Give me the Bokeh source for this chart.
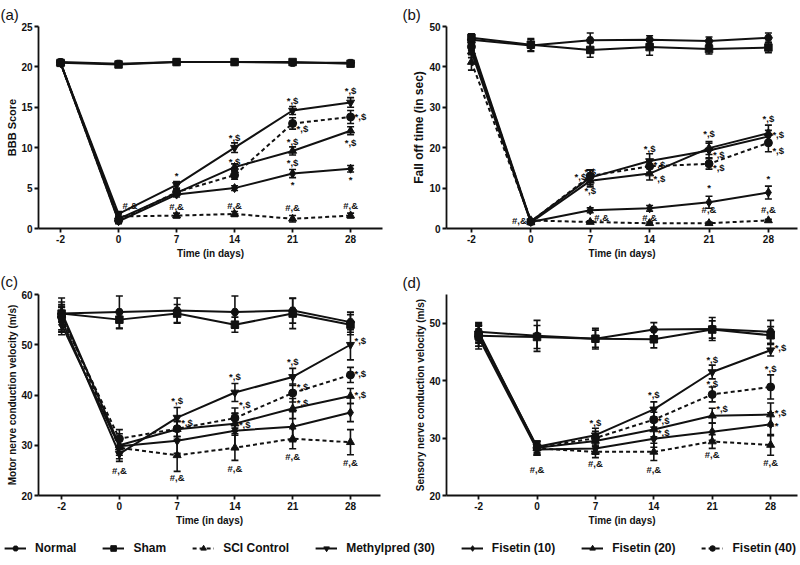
from bokeh.plotting import figure
from bokeh.layouts import column, row
from bokeh.models import ColumnDataSource, Whisker, TeeHead, FixedTicker, Range1d, Legend, LegendItem, Title
from bokeh.core.properties import value
from bokeh.embed import file_html
from bokeh.resources import INLINE

# ---------------- data ----------------
days = ["-2", "0", "7", "14", "21", "28"]
groups = ["Normal", "Sham", "SCI Control", "Methylpred (30)", "Fisetin (10)", "Fisetin (20)", "Fisetin (40)"]

# (a) BBB score
bbb_mean = {
    "Normal":          [20.6, 20.4, 20.6, 20.6, 20.5, 20.5],
    "Sham":            [20.5, 20.3, 20.6, 20.6, 20.6, 20.4],
    "SCI Control":     [20.5, 1.5, 1.6, 1.8, 1.2, 1.6],
    "Methylpred (30)": [20.5, 1.8, 5.4, 10.0, 14.6, 15.6],
    "Fisetin (10)":    [20.5, 0.9, 4.2, 5.0, 6.8, 7.4],
    "Fisetin (20)":    [20.5, 1.2, 4.4, 7.6, 9.6, 12.1],
    "Fisetin (40)":    [20.5, 1.0, 4.5, 6.6, 13.0, 13.8],
}
bbb_err = {
    "Normal":          [0.2, 0.2, 0.2, 0.2, 0.2, 0.2],
    "Sham":            [0.2, 0.2, 0.2, 0.2, 0.2, 0.2],
    "SCI Control":     [0.2, 0.3, 0.3, 0.3, 0.4, 0.3],
    "Methylpred (30)": [0.2, 0.3, 0.4, 0.6, 0.5, 0.6],
    "Fisetin (10)":    [0.2, 0.3, 0.3, 0.3, 0.5, 0.4],
    "Fisetin (20)":    [0.2, 0.3, 0.3, 0.4, 0.5, 0.5],
    "Fisetin (40)":    [0.2, 0.3, 0.4, 0.5, 0.7, 0.8],
}

# (b) fall off time
fall_mean = {
    "Normal":          [46.7, 45.3, 46.6, 46.7, 46.4, 47.2],
    "Sham":            [47.2, 45.5, 44.2, 44.9, 44.4, 44.8],
    "SCI Control":     [41.2, 2.0, 1.6, 1.3, 1.3, 2.0],
    "Methylpred (30)": [45.5, 1.8, 12.6, 16.7, 19.3, 22.8],
    "Fisetin (10)":    [44.5, 1.6, 4.5, 5.0, 6.5, 8.9],
    "Fisetin (20)":    [43.8, 1.5, 11.8, 13.6, 19.9, 23.6],
    "Fisetin (40)":    [45.0, 1.7, 13.0, 15.4, 16.0, 21.2],
}
fall_err = {
    "Normal":          [1.2, 1.5, 1.8, 1.0, 1.0, 1.2],
    "Sham":            [1.0, 1.5, 1.8, 2.0, 1.2, 1.3],
    "SCI Control":     [2.0, 0.3, 0.3, 0.3, 0.3, 0.3],
    "Methylpred (30)": [1.5, 0.4, 1.8, 1.8, 1.8, 1.5],
    "Fisetin (10)":    [1.5, 0.4, 0.6, 0.7, 1.5, 1.6],
    "Fisetin (20)":    [1.5, 0.4, 1.5, 1.6, 1.6, 2.0],
    "Fisetin (40)":    [1.5, 0.4, 1.5, 1.5, 1.3, 2.2],
}

# (c) motor nerve conduction velocity
mncv_mean = {
    "Normal":          [56.2, 56.5, 56.8, 56.5, 56.8, 54.5],
    "Sham":            [56.2, 55.0, 56.2, 54.0, 56.2, 54.0],
    "SCI Control":     [56.0, 29.5, 28.0, 29.5, 31.3, 30.6],
    "Methylpred (30)": [55.0, 28.3, 35.5, 40.5, 43.6, 50.0],
    "Fisetin (10)":    [54.0, 29.8, 30.9, 32.9, 33.7, 36.5],
    "Fisetin (20)":    [56.5, 30.0, 33.2, 34.3, 37.3, 39.8],
    "Fisetin (40)":    [55.5, 31.3, 33.3, 35.4, 40.4, 44.0],
}
mncv_err = {
    "Normal":          [1.5, 3.2, 2.5, 3.2, 2.5, 2.0],
    "Sham":            [1.2, 1.8, 1.8, 1.5, 3.0, 2.0],
    "SCI Control":     [3.3, 1.5, 3.2, 2.5, 2.0, 2.5],
    "Methylpred (30)": [2.5, 1.5, 2.0, 1.8, 1.7, 3.0],
    "Fisetin (10)":    [2.0, 2.5, 2.5, 3.5, 3.0, 1.8],
    "Fisetin (20)":    [2.0, 1.5, 1.5, 2.0, 2.0, 1.5],
    "Fisetin (40)":    [2.5, 1.8, 1.5, 2.0, 1.8, 1.5],
}

# (d) sensory nerve conduction velocity
sncv_mean = {
    "Normal":          [48.5, 47.8, 47.3, 48.9, 49.0, 48.5],
    "Sham":            [47.8, 47.6, 47.3, 47.2, 48.9, 47.9],
    "SCI Control":     [48.0, 28.2, 27.6, 27.6, 29.4, 28.8],
    "Methylpred (30)": [48.2, 28.5, 30.5, 35.0, 41.5, 45.3],
    "Fisetin (10)":    [47.5, 28.0, 28.2, 29.9, 31.1, 32.4],
    "Fisetin (20)":    [48.5, 28.3, 29.5, 31.5, 33.9, 34.1],
    "Fisetin (40)":    [47.8, 28.3, 30.0, 33.2, 37.6, 38.9],
}
sncv_err = {
    "Normal":          [1.5, 2.7, 1.8, 1.2, 2.0, 2.0],
    "Sham":            [2.3, 2.0, 1.5, 1.5, 1.5, 1.5],
    "SCI Control":     [1.5, 1.2, 1.0, 1.5, 1.2, 1.8],
    "Methylpred (30)": [1.5, 1.0, 1.2, 1.3, 1.2, 1.0],
    "Fisetin (10)":    [1.5, 1.0, 1.0, 1.5, 1.5, 2.0],
    "Fisetin (20)":    [1.2, 1.0, 1.0, 1.3, 1.3, 2.0],
    "Fisetin (40)":    [1.8, 1.2, 1.2, 1.3, 1.3, 2.1],
}

# significance labels: (day index, y, text, side)
bbb_ann = [(1, 2.8, "#,&", "r"), (2, 2.7, "#,&", "c"), (3, 2.8, "#,&", "c"), (4, 2.6, "#,&", "c"), (5, 2.8, "#,&", "c"),
           (2, 6.6, "*", "c"), (3, 11.3, "*,$", "c"), (3, 8.3, "*,$", "c"),
           (4, 15.9, "*,$", "c"), (4, 12.4, "*,$", "r"), (4, 10.8, "*,$", "c"), (4, 8.2, "*,$", "c"), (4, 5.5, "*", "c"),
           (5, 17.1, "*,$", "c"), (5, 13.8, "*,$", "r"), (5, 10.6, "*,$", "c"), (5, 6.1, "*", "c")]
fall_ann = [(1, 2.0, "#,&", "l"), (2, 14.1, "*,$", "c"), (2, 12.8, "*,$", "l"), (2, 9.4, "*,$", "c"), (2, 2.7, "#,&", "r"),
            (3, 19.8, "*,$", "c"), (3, 15.8, "*,$", "r"), (3, 12.4, "*,$", "r"), (3, 2.6, "#,&", "c"),
            (4, 23.5, "*,$", "c"), (4, 18.3, "*,$", "r"), (4, 15.0, "*,$", "r"), (4, 10.2, "*", "c"), (4, 4.8, "#,&", "c"),
            (5, 27.2, "*,$", "c"), (5, 23.2, "*,$", "r"), (5, 19.2, "*,$", "r"), (5, 12.3, "*", "c"), (5, 4.8, "#,&", "c")]
mncv_ann = [(1, 25.0, "#,&", "c"), (2, 38.9, "*,$", "c"), (2, 34.6, "*,$", "r"), (2, 23.6, "#,&", "c"),
            (3, 43.6, "*,$", "c"), (3, 38.1, "*,$", "r"), (3, 34.2, "*,$", "r"), (3, 25.3, "#,&", "c"),
            (4, 46.7, "*,$", "c"), (4, 41.7, "*,$", "r"), (4, 38.5, "*,$", "r"), (4, 27.7, "#,&", "c"),
            (5, 50.8, "*,$", "r"), (5, 44.2, "*,$", "r"), (5, 40.1, "*,$", "r"), (5, 26.6, "#,&", "c")]
sncv_ann = [(1, 24.6, "#,&", "c"), (2, 32.7, "*,$", "c"), (2, 25.5, "#,&", "c"),
            (3, 37.6, "*,$", "c"), (3, 33.1, "*,$", "r"), (3, 31.0, "*,$", "r"), (3, 24.6, "#,&", "c"),
            (4, 43.7, "*,$", "c"), (4, 39.5, "*,$", "c"), (4, 35.1, "*,$", "r"), (4, 27.1, "#,&", "c"),
            (5, 45.7, "*,$", "r"), (5, 42.1, "*,$", "c"), (5, 34.5, "*,$", "r"), (5, 32.2, "*", "r"), (5, 25.7, "#,&", "c")]

# ---------------- styles ----------------
MARK = {"Normal": "hex", "Sham": "square", "SCI Control": "triangle", "Methylpred (30)": "inverted_triangle",
        "Fisetin (10)": "diamond", "Fisetin (20)": "triangle", "Fisetin (40)": "circle"}
DASH = {"SCI Control": "4 3", "Fisetin (40)": "4 3"}
MSIZE = {"Normal": 8, "Sham": 7.5, "SCI Control": 8, "Methylpred (30)": 8, "Fisetin (10)": 9, "Fisetin (20)": 8, "Fisetin (40)": 8}
FONT = "Liberation Sans"
INK = "#111111"


def panel(letter, ylabel, ylab_size, means, errs, ann, yr, yticks, xr, w, h, bl, br, bt, bb, toff, tstand):
    p = figure(width=w, height=h, x_range=Range1d(*xr), y_range=Range1d(*yr),
               output_backend="svg", toolbar_location=None,
               min_border_left=bl, min_border_right=br, min_border_top=bt, min_border_bottom=bb)
    p.title.text = letter
    p.title.align = "left"
    p.title.offset = toff
    p.title.text_font = FONT
    p.title.text_font_size = "15px"
    p.title.text_font_style = "normal"
    p.title.text_color = INK
    p.title.standoff = tstand
    p.outline_line_color = None
    p.grid.visible = False
    p.background_fill_color = "white"
    xs = list(range(len(days)))
    for g in groups:
        m = means[g]
        e = errs[g]
        src = ColumnDataSource(dict(x=xs, y=m, lo=[a - b for a, b in zip(m, e)], hi=[a + b for a, b in zip(m, e)]))
        p.line("x", "y", source=src, line_color=INK, line_width=2.0, line_dash=DASH.get(g, "solid"))
        wh = Whisker(source=src, base="x", upper="hi", lower="lo", dimension="height",
                     line_color=INK, line_width=1.6,
                     upper_head=TeeHead(size=7, line_color=INK, line_width=1.6),
                     lower_head=TeeHead(size=7, line_color=INK, line_width=1.6))
        p.add_layout(wh)
        p.scatter("x", "y", source=src, marker=MARK[g], size=MSIZE[g], fill_color=INK, line_color=INK)
    for side, align, off in (("c", "center", 0), ("r", "left", 4), ("l", "right", -4)):
        sel = [a for a in ann if a[3] == side]
        if not sel:
            continue
        s = ColumnDataSource(dict(x=[a[0] for a in sel], y=[a[1] for a in sel], t=[a[2] for a in sel]))
        p.text("x", "y", text="t", source=s, text_align=align, text_baseline="middle", x_offset=off,
               text_font=value(FONT), text_font_style="bold", text_font_size="9.5px", text_color=INK)
    p.xaxis.ticker = FixedTicker(ticks=xs)
    p.xaxis.major_label_overrides = {i: d for i, d in enumerate(days)}
    p.yaxis.ticker = FixedTicker(ticks=yticks)
    for ax in (p.xaxis, p.yaxis):
        ax.axis_line_width = 1.8
        ax.axis_line_color = INK
        ax.major_tick_line_width = 1.8
        ax.major_tick_line_color = INK
        ax.major_tick_out = 4
        ax.major_tick_in = 0
        ax.minor_tick_line_color = None
        ax.major_label_text_font = FONT
        ax.major_label_text_font_style = "bold"
        ax.major_label_text_font_size = "10px"
        ax.major_label_text_color = INK
        ax.major_label_standoff = 2
    p.add_layout(Title(text="Time (in days)", align="center", standoff=1, text_font=FONT,
                       text_font_style="bold", text_font_size="10px", text_color=INK), "below")
    p.add_layout(Title(text=ylabel, align="center", standoff=1, text_font=FONT,
                       text_font_style="bold", text_font_size=ylab_size, text_color=INK), "left")
    return p


pa = panel("(a)", "BBB Score", "11px", bbb_mean, bbb_err, bbb_ann, (0, 25), [0, 5, 10, 15, 20, 25],
           (-0.38, 5.55), 400, 266, 38, 18, 24, 36, -38, 7)
pb = panel("(b)", "Fall off time (in sec)", "12px", fall_mean, fall_err, fall_ann, (0, 50), [0, 10, 20, 30, 40, 50],
           (-0.42, 5.49), 400, 266, 46, 3, 24, 38, -44, 7)
pc = panel("(c)", "Motor nerve conduction velocity (m/s)", "10px", mncv_mean, mncv_err, mncv_ann, (20, 60),
           [20, 30, 40, 50, 60], (-0.4, 5.52), 400, 265, 38, 20, 27, 36, -38, 9)
pd = panel("(d)", "Sensory nerve conduction velocity (m/s)", "10px", sncv_mean, sncv_err, sncv_ann, (20, 55),
           [20, 30, 40, 50], (-0.55, 5.46), 400, 265, 46, 3, 26, 36, -44, 8)

# legend strip
pl = figure(width=800, height=34, x_range=Range1d(0, 1), y_range=Range1d(0, 1),
            output_backend="svg", toolbar_location=None,
            min_border_left=0, min_border_right=0, min_border_top=0, min_border_bottom=0)
pl.axis.visible = False
pl.grid.visible = False
pl.outline_line_color = None
items = []
for g in groups:
    es = ColumnDataSource(dict(x=[-10.0], y=[-10.0]))
    r1 = pl.line("x", "y", source=es, line_color=INK, line_width=2, line_dash=DASH.get(g, "solid"))
    r2 = pl.scatter("x", "y", source=es, marker=MARK[g], size=MSIZE[g], fill_color=INK, line_color=INK)
    items.append(LegendItem(label=g, renderers=[r1, r2]))
leg = Legend(items=items, orientation="horizontal", location="center",
             glyph_width=22, glyph_height=14, label_standoff=9, spacing=26, padding=0, margin=0,
             border_line_color=None, background_fill_alpha=0,
             label_text_font=FONT, label_text_font_style="bold", label_text_font_size="12px",
             label_text_color=INK)
pl.add_layout(leg, "center")

layout = column(row(pa, pb), row(pc, pd), pl)
open("out.html", "w").write(file_html(layout, INLINE))
